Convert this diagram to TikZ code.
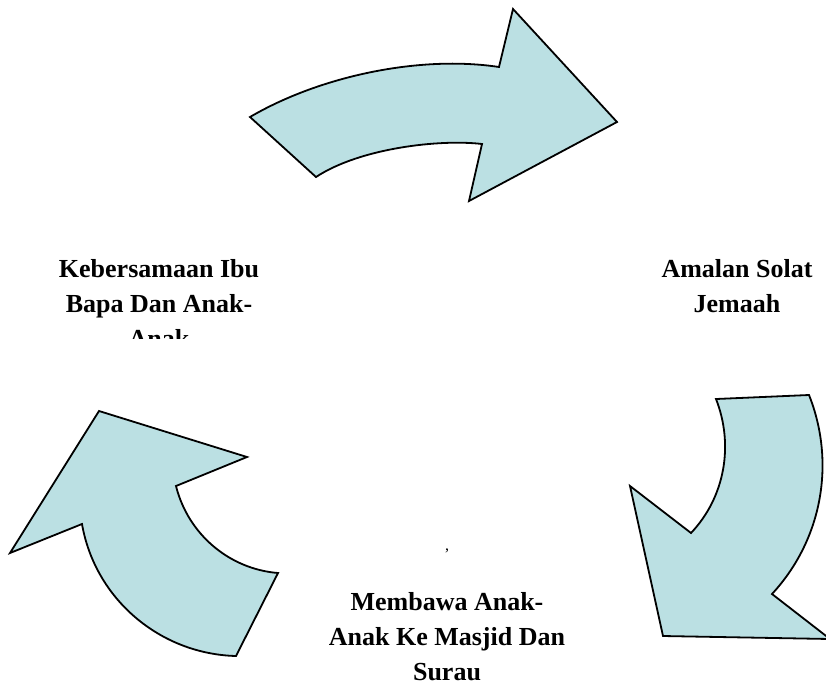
\documentclass[tikz,border=0pt]{standalone}
\usepackage{fontspec}
\setmainfont{Liberation Serif}
\definecolor{cycleblue}{RGB}{187, 224, 227}
\usepackage{tikz}
\usetikzlibrary{positioning}
\tikzset{
  cyclearrow/.style={draw=black, line width=1.8pt, fill=cycleblue, line join=miter},
  steplabel/.style={font=\bfseries\fontsize{26}{35}\selectfont, align=center, inner sep=0pt, anchor=base}
}

\begin{document}
\begin{tikzpicture}[x=1pt, y=-1pt]
  \useasboundingbox (0, 0) rectangle (826, 686);
  \clip (0, 0) rectangle (826, 686);

  % Top arrow (left to right)
  \filldraw[cyclearrow] (250, 117) .. controls (320, 76) and (420, 55) .. (499, 67)
    -- (513, 9) -- (617, 122) -- (469, 201) -- (482, 144)
    .. controls (440, 139) and (360, 148) .. (316, 177) -- cycle;

  % Right arrow (downwards)
  \filldraw[cyclearrow] (716, 399) -- (809, 395)
    .. controls (836, 463) and (822, 540) .. (772, 594)
    -- (830, 639) -- (663, 636) -- (630, 486) -- (691, 533)
    .. controls (725, 497) and (734, 445) .. (716, 399) -- cycle;

  % Left arrow (upwards)
  \filldraw[cyclearrow] (99, 411) -- (247, 457) -- (176, 486)
    .. controls (188, 534) and (229, 569) .. (278, 573)
    -- (236, 656) .. controls (160, 654) and (95, 599) .. (82, 524)
    -- (10, 553) -- cycle;

  % Labels (base = baseline of the last line)
  \begin{scope}
    \clip (0, 0) rectangle (826, 338);
    \node[steplabel] (kebersamaan) at (159, 347) {Kebersamaan Ibu\\Bapa Dan Anak-\\Anak};
  \end{scope}
  \node[steplabel] (solat) at (737, 312.5) {Amalan Solat\\Jemaah};
  \node[steplabel] (masjid) at (447, 680) {Membawa Anak-\\Anak Ke Masjid Dan\\Surau};
  \node[font=\fontsize{16}{18}\selectfont, inner sep=0pt, anchor=base] (koma) at (447, 550) {,};
\end{tikzpicture}
\end{document}
